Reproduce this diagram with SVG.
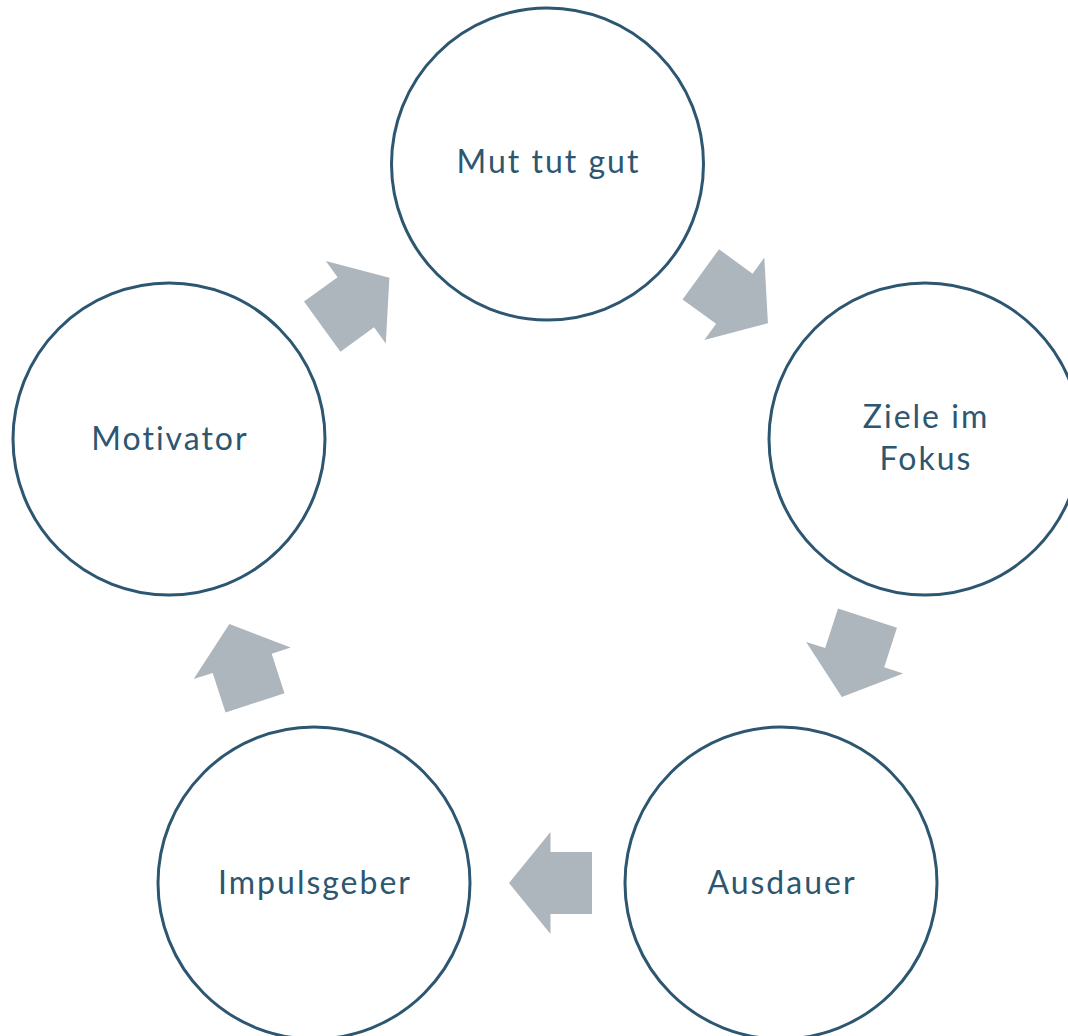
<svg xmlns="http://www.w3.org/2000/svg" width="1068" height="1036" viewBox="0 0 1068 1036">
<defs>
<style>
.node circle{fill:#fff;stroke:#2D5671;stroke-width:3}
.node text{font-family:Lato,"Liberation Sans",sans-serif;font-size:32px;letter-spacing:2px;fill:#2D5671;text-anchor:middle}
.arrow{fill:#ADB5BD}
</style>
<polygon id="arr" class="arrow" points="592,852 550.5,852 550.5,832 509,883 550.5,934 550.5,914 592,914"/>
</defs>
<rect width="1068" height="1036" fill="#fff"/>
<g id="connectors">
<use href="#arr"/>
<use href="#arr" transform="rotate(72 547.5 561)"/>
<use href="#arr" transform="rotate(144 547.5 561)"/>
<use href="#arr" transform="rotate(-144 547.5 561)"/>
<use href="#arr" transform="rotate(-72 547.5 561)"/>
</g>
<g id="node-mut" class="node"><circle cx="547.5" cy="164" r="156"/><text x="548.5" y="173">Mut tut gut</text></g>
<g id="node-ziele" class="node"><circle cx="925" cy="439" r="156"/><text x="926" y="428">Ziele im</text><text x="926" y="470">Fokus</text></g>
<g id="node-ausdauer" class="node"><circle cx="781" cy="883" r="156"/><text x="782" y="894">Ausdauer</text></g>
<g id="node-impuls" class="node"><circle cx="314" cy="883" r="156"/><text x="315" y="894">Impulsgeber</text></g>
<g id="node-motivator" class="node"><circle cx="169" cy="439" r="156"/><text x="170" y="450">Motivator</text></g>
</svg>
